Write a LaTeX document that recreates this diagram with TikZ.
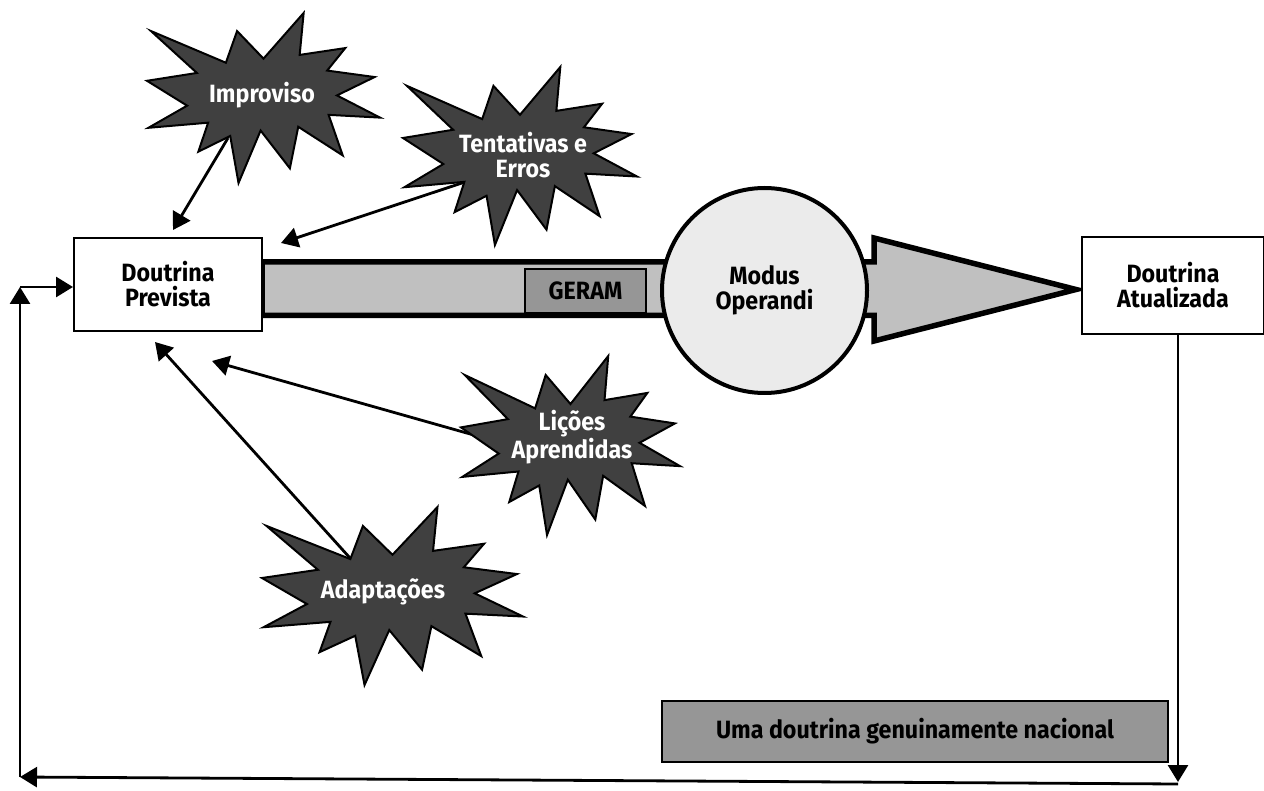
\documentclass[tikz,border=0pt]{standalone}
\usepackage{fontspec}
\setmainfont{Fira Sans}[FakeStretch=0.93]
\usetikzlibrary{arrows.meta}
\definecolor{explo}{RGB}{64,64,64}
\definecolor{barfill}{RGB}{192,192,192}
\definecolor{darkbox}{RGB}{150,150,150}
\definecolor{circfill}{RGB}{235,235,235}
\tikzset{
  lbl/.style={font=\fontsize{25}{25}\selectfont\bfseries, align=center, inner sep=0pt},
  whitebox/.style={draw=black, line width=2pt, fill=white},
  explosionpath/.style={draw=black, line width=2pt, fill=explo, line join=miter},
  connector/.style={draw=black, line width=2.8pt, -{Triangle[length=17pt,width=20pt]}},
}
\newcommand\explosion[5]{%
  \begin{scope}[shift={(#2,#3)}, xscale=#4/216, yscale=#5/216]
    \path[explosionpath] (108,58) -- (145.22,0) -- (141.55,53.25) -- (183.80,44.57)
      -- (167.02,73.15) -- (210.97,81.37) -- (176.07,104.75) -- (216,132.90)
      -- (168.37,129.42) -- (181.45,180.95) -- (140.20,144.57) -- (132.47,197.37)
      -- (105.32,149.35) -- (84.85,216) -- (77.15,156.27) -- (47.62,176.17)
      -- (56.67,139.37) -- (1.35,145.87) -- (37.22,117.75) -- (0,86.15)
      -- (46.27,76.17) -- (3.70,22.95) -- (73.12,63.20) -- (83.52,22.95) -- cycle;
  \end{scope}%
}
\begin{document}
\begin{tikzpicture}[x=1pt,y=-1pt]
\useasboundingbox (0,0) rectangle (1264,791);

% main flow arrow (drawn beneath boxes and circle)
\path[draw=black, fill=barfill, line width=5.5pt, line join=miter, miter limit=10]
  (262,262) -- (874,262) -- (874,238) -- (1076,289.5) -- (874,341) -- (874,315.5)
  -- (262,315.5) -- cycle;

% boxes
\node[whitebox, minimum width=188pt, minimum height=93pt, anchor=north west] (prev) at (73,237) {};
\node[lbl] at (prev.center) {Doutrina\\Prevista};
\node[whitebox, minimum width=182pt, minimum height=97pt, anchor=north west] (atual) at (1081,236) {};
\node[lbl] at (atual.center) {Doutrina\\Atualizada};

\node[draw=black, line width=2pt, fill=darkbox, minimum width=121pt, minimum height=44pt, anchor=north west, lbl] (geram) at (524,268) {GERAM};

\node[circle, draw=black, line width=4pt, fill=circfill, minimum size=205pt, lbl] (modus) at (764.5,290.5) {Modus\\Operandi};

\node[draw=black, line width=2pt, fill=darkbox, minimum width=506pt, minimum height=61pt, anchor=north west, lbl] (uma) at (661,700) {Uma doutrina genuinamente nacional};

% connectors from explosions
\coordinate (impS) at (228,138);
\coordinate (impT) at (173,230);
\coordinate (tenS) at (465,182);
\coordinate (tenT) at (281,243);
\coordinate (licS) at (495,441);
\coordinate (licT) at (212,361);
\coordinate (adaS) at (350,558);
\coordinate (adaT) at (155,342);
\draw[connector] (impS) -- (impT);
\draw[connector] (tenS) -- (tenT);
\draw[connector] (licS) -- (licT);
\draw[connector] (adaS) -- (adaT);

% explosions
\explosion{imp}{147}{13}{233}{170}
\node[lbl, text=white] (improviso) at (262,95) {Improviso};
\explosion{ten}{403}{67}{234}{178}
\node[lbl, text=white] (tentativas) at (523,155) {Tentativas e\\Erros};
\explosion{lic}{461}{356}{219}{179}
\node[lbl, text=white] (licoes) at (572,437) {Lições\\Aprendidas};
\explosion{ada}{262}{507}{261}{178}
\node[lbl, text=white] (adapt) at (383,592) {Adaptações};

% feedback loop
\coordinate (cR) at (1178,782);
\coordinate (cR2) at (1178,784);
\coordinate (cBL) at (20,777);
\coordinate (cTL) at (20,287);
\draw[connector] (atual.south -| cR) -- (cR);
\draw[connector] (cR2) -- (cBL);
\draw[connector] (cBL) -- (cTL);
\draw[connector] (cTL) -- (prev.west |- cTL);
\end{tikzpicture}
\end{document}
